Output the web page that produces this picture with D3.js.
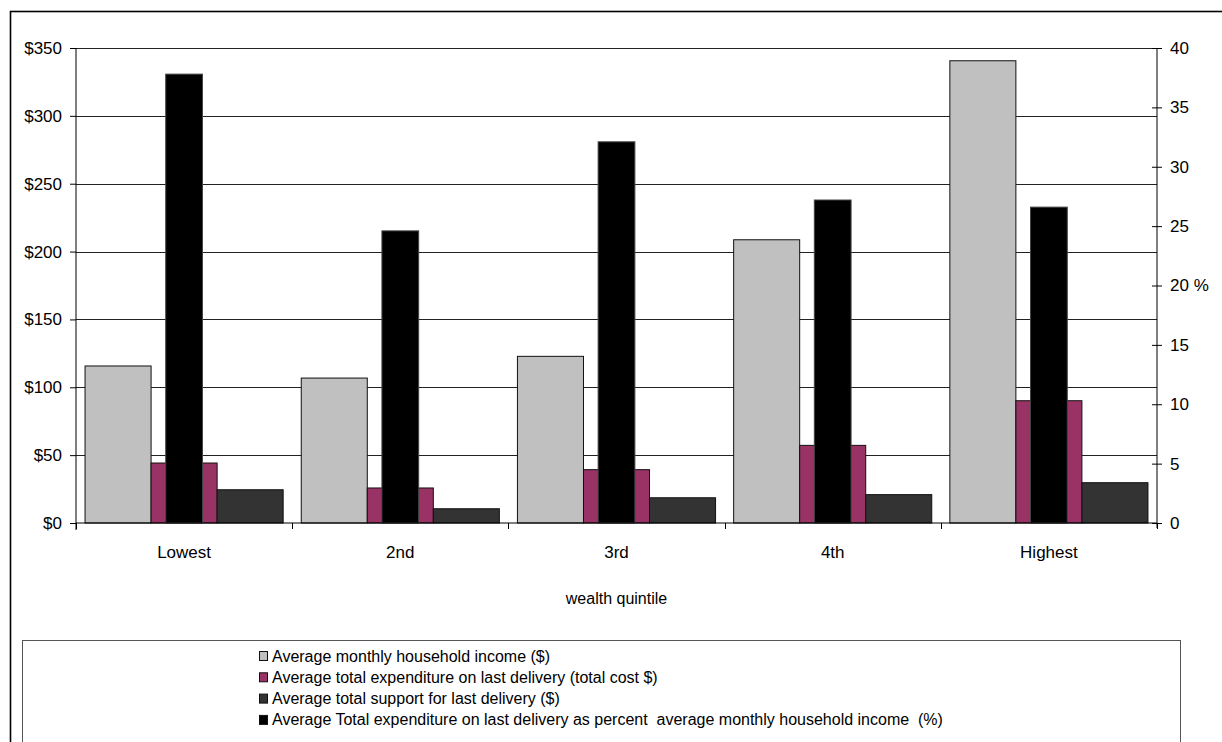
<!DOCTYPE html>
<html>
<head>
<meta charset="utf-8">
<script src="https://cdn.jsdelivr.net/npm/d3@7"></script>
<style>
  body { margin: 0; background: #fff; }
  text { font-family: Arial, "Liberation Sans", sans-serif; fill: #000; }
  .leg text { white-space: pre; }
</style>
</head>
<body>
<div id="vis"></div>
<script>
// DATA
const quintiles = ["Lowest", "2nd", "3rd", "4th", "Highest"];
const income = [115.7, 106.8, 122.8, 208.7, 340.6];
const expenditure = [44.2, 25.8, 39.3, 57.2, 90.1];
const support = [24.5, 10.5, 18.6, 20.9, 29.7];
const percentIncome = [37.8, 24.6, 32.1, 27.2, 26.6];
const dollarTicks = [0, 50, 100, 150, 200, 250, 300, 350];
const pctTicks = [0, 5, 10, 15, 20, 25, 30, 35, 40];

const seriesNames = [
  "Average monthly household income ($)",
  "Average total expenditure on last delivery (total cost $)",
  "Average total support for last delivery ($)",
  "Average Total expenditure on last delivery as percent  average monthly household income  (%)"
];
const colors = ["#c0c0c0", "#993366", "#333333", "#000000"];

const width = 1222, height = 742;
const plot = {left: 76, right: 1157, top: 48, bottom: 523};

const svg = d3.select("#vis").append("svg")
  .attr("width", width)
  .attr("height", height);

// outer frame
svg.append("rect")
  .attr("x", 10.5).attr("y", 11.5)
  .attr("width", 1300).attr("height", 800)
  .attr("fill", "none").attr("stroke", "#000").attr("stroke-width", 1.6);

//CREATE SCALES
const x = d3.scaleBand().domain(quintiles).range([plot.left, plot.right]);
const xSeries = d3.scaleBand().domain([0, 1, 2])
  .range([0, x.bandwidth()]).paddingInner(0).paddingOuter(0.137);
const y = d3.scaleLinear().domain([0, 350]).range([plot.bottom, plot.top]);
const y2 = d3.scaleLinear().domain([0, 40]).range([plot.bottom, plot.top]);

// gridlines
svg.append("g").selectAll("line")
  .data(dollarTicks.slice(1))
  .join("line")
  .attr("x1", plot.left).attr("x2", plot.right)
  .attr("y1", d => Math.round(y(d)) + 0.5).attr("y2", d => Math.round(y(d)) + 0.5)
  .attr("stroke", "#222").attr("stroke-width", 1);

//DRAW bars on the primary axis
const primary = [income, expenditure, support];
const rows = [];
primary.forEach((arr, s) => arr.forEach((v, i) => rows.push({s, q: quintiles[i], v})));

svg.append("g").selectAll("rect")
  .data(rows)
  .join("rect")
  .attr("x", d => x(d.q) + xSeries(d.s))
  .attr("width", xSeries.bandwidth())
  .attr("y", d => y(d.v))
  .attr("height", d => y(0) - y(d.v))
  .attr("fill", d => colors[d.s])
  .attr("stroke", "#111").attr("stroke-width", 1);

// percent bars, secondary axis, narrow and centred
const blackW = x.bandwidth() * 0.17;
svg.append("g").selectAll("rect")
  .data(percentIncome)
  .join("rect")
  .attr("x", (d, i) => x(quintiles[i]) + x.bandwidth() / 2 - blackW / 2)
  .attr("width", blackW)
  .attr("y", d => y2(d))
  .attr("height", d => y2(0) - y2(d))
  .attr("fill", colors[3])
  .attr("stroke", "#444").attr("stroke-width", 1);

// axes
const left = svg.append("g")
  .attr("transform", `translate(${plot.left},0)`)
  .call(d3.axisLeft(y).tickValues(dollarTicks).tickSize(6).tickPadding(8)
    .tickFormat(d => "$" + d));
left.select(".domain").attr("d", `M0,${plot.top}V${plot.bottom + 7}`);

const right = svg.append("g")
  .attr("transform", `translate(${plot.right},0)`)
  .call(d3.axisRight(y2).tickValues(pctTicks).tickSize(5).tickPadding(8)
    .tickFormat(d => d === 20 ? "20 %" : d));
right.select(".domain").attr("d", `M0,${plot.top}V${plot.bottom + 5}`);
right.selectAll(".tick line").attr("x1", -5);

const bottom = svg.append("g")
  .attr("transform", `translate(0,${plot.bottom})`)
  .call(d3.axisBottom(x).tickSize(0).tickPadding(23));
bottom.select(".domain").attr("d", `M${plot.left},0H${plot.right}`);
bottom.selectAll(".bound")
  .data(d3.range(quintiles.length + 1))
  .join("line")
  .attr("x1", i => Math.round(plot.left + i * x.step()) + 0.5)
  .attr("x2", i => Math.round(plot.left + i * x.step()) + 0.5)
  .attr("y1", 0).attr("y2", 6)
  .attr("stroke", "#000");

[left, right, bottom].forEach(g => {
  g.selectAll("text").style("font-size", "17px").style("font-family", "Arial, 'Liberation Sans', sans-serif");
  g.selectAll(".domain, line").attr("stroke", "#000");
});

svg.append("text")
  .attr("x", (plot.left + plot.right) / 2)
  .attr("y", 604)
  .attr("text-anchor", "middle")
  .style("font-size", "16px")
  .text("wealth quintile");

// legend
const leg = svg.append("g").attr("class", "leg");
leg.append("rect")
  .attr("x", 22.5).attr("y", 640.5)
  .attr("width", 1158).attr("height", 200)
  .attr("fill", "none").attr("stroke", "#555").attr("stroke-width", 1);

const item = leg.selectAll(".item")
  .data(seriesNames)
  .join("g")
  .attr("class", "item")
  .attr("transform", (d, i) => `translate(259,${656 + i * 21.3})`);
item.append("rect")
  .attr("x", 0.5).attr("y", -4.5)
  .attr("width", 8).attr("height", 9)
  .attr("fill", (d, i) => colors[i])
  .attr("stroke", "#111");
item.append("text")
  .attr("x", 13).attr("y", 5.5)
  .style("font-size", "16px")
  .text(d => d);
</script>
</body>
</html>
